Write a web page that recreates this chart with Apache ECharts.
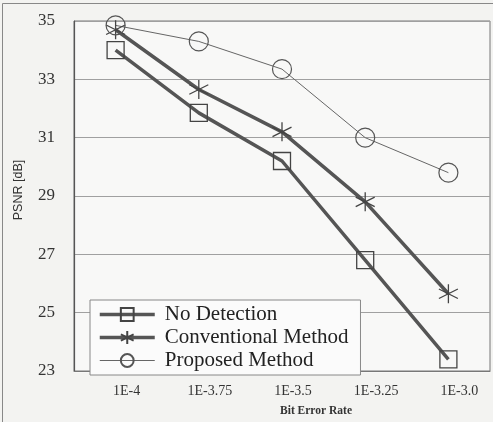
<!DOCTYPE html>
<html><head><meta charset="utf-8">
<script src="https://cdn.jsdelivr.net/npm/echarts@6/dist/echarts.min.js"></script>
<style>html,body{margin:0;padding:0;background:#f3f3f1;}#c{width:493px;height:422px;}</style>
</head><body><div id="c"></div>
<script>
const categories = ['1E-4', '1E-3.75', '1E-3.5', '1E-3.25', '1E-3.0'];
const noDetection = [34.0, 31.85, 30.2, 26.8, 23.4];
const conventional = [34.7, 32.65, 31.2, 28.8, 25.65];
const proposed = [34.85, 34.3, 33.35, 31.0, 29.8];
const yTicks = [23, 25, 27, 29, 31, 33, 35];

const serif = '"Liberation Serif", "DejaVu Serif", serif';
const star = 'path://M10,0L10,20M1,5L19,15M1,15L19,5';
const square = 'path://M0,0L20,0L20,20L0,20Z';
const chart = echarts.init(document.getElementById('c'), null, {renderer: 'canvas'});
chart.setOption({
  backgroundColor: '#f3f3f1',
  animation: false,
  graphic: [
    {type: 'rect', shape: {x: 2.5, y: 3.5, width: 600, height: 430}, style: {fill: 'none', stroke: '#888', lineWidth: 1}, z: 0},
    {type: 'rect', shape: {x: 74, y: 21, width: 416, height: 352}, style: {fill: '#f8f8f7'}, z: -1}
  ],
  grid: {left: 74, right: 3, top: 21, bottom: 49, show: true, borderColor: '#777', borderWidth: 1},
  legend: {
    orient: 'vertical', left: 90, top: 300,
    data: [
      {name: 'No Detection', lineStyle: {width: 3.5, color: '#555'}},
      {name: 'Conventional Method', lineStyle: {width: 3.5, color: '#555'}},
      {name: 'Proposed Method', lineStyle: {width: 1, color: '#666'}}
    ],
    itemWidth: 55, itemHeight: 16, itemGap: 0,
    padding: [3, 12, 3, 8],
    backgroundColor: '#fbfbfb', borderColor: '#888', borderWidth: 1,
    textStyle: {fontFamily: serif, fontSize: 21, lineHeight: 23, color: '#222', padding: [0, 0, 0, 5]}
  },
  xAxis: {
    type: 'category', data: categories, boundaryGap: true,
    axisLine: {lineStyle: {color: '#777'}}, axisTick: {show: false},
    axisLabel: {fontFamily: serif, fontSize: 14, color: '#333', margin: 13, padding: [0, 0, 0, 22]},
    name: 'Bit Error Rate', nameLocation: 'middle', nameGap: 34,
    nameTextStyle: {fontFamily: serif, fontSize: 11.5, fontWeight: 'bold', color: '#333', padding: [0, 0, 0, 68]}
  },
  yAxis: {
    type: 'value', min: yTicks[0], max: yTicks[yTicks.length - 1], interval: 2,
    axisLine: {show: true, lineStyle: {color: '#555', width: 1.2}}, axisTick: {show: false},
    splitLine: {lineStyle: {color: '#a0a0a0', width: 1}},
    axisLabel: {fontFamily: serif, fontSize: 17, color: '#333', margin: 19},
    name: 'PSNR [dB]', nameLocation: 'middle', nameGap: 49, nameRotate: 90,
    nameTextStyle: {fontFamily: '"Liberation Sans", Arial, sans-serif', fontSize: 12.5, color: '#333', padding: [0, 0, 0, 12]}
  },
  series: [
    {name: 'No Detection', type: 'line', data: noDetection, symbol: square, symbolSize: 17,
     lineStyle: {color: '#555', width: 3.5},
     itemStyle: {color: 'rgba(0,0,0,0)', borderColor: '#444', borderWidth: 1.3}},
    {name: 'Conventional Method', type: 'line', data: conventional, symbol: star, symbolSize: 19,
     lineStyle: {color: '#555', width: 3.5},
     itemStyle: {color: 'rgba(0,0,0,0)', borderColor: '#444', borderWidth: 1.3}},
    {name: 'Proposed Method', type: 'line', data: proposed, symbol: 'circle', symbolSize: 19,
     lineStyle: {color: '#666', width: 1},
     itemStyle: {color: 'rgba(0,0,0,0)', borderColor: '#555', borderWidth: 1.2}}
  ]
});
</script></body></html>
